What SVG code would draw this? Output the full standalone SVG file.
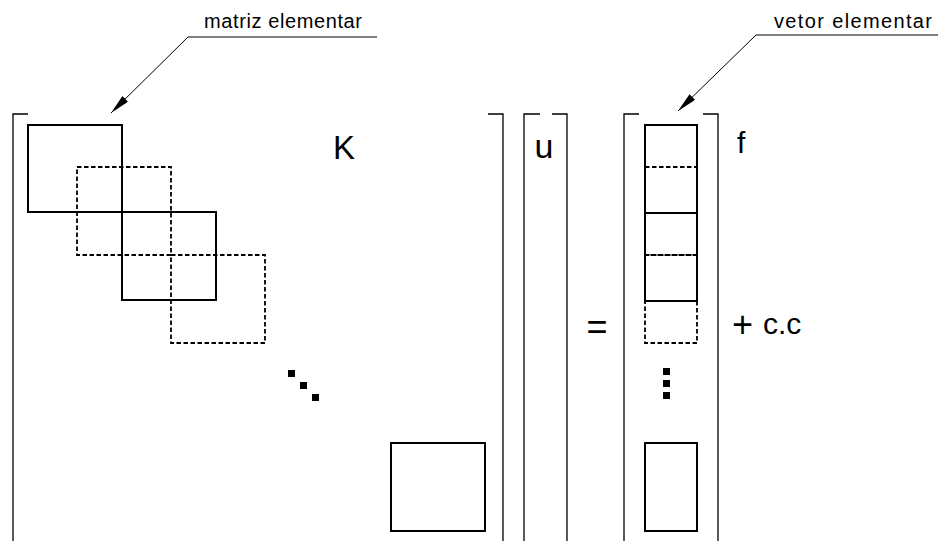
<svg xmlns="http://www.w3.org/2000/svg" width="938" height="541" viewBox="0 0 938 541">
  <style>
    .solid { fill: none; stroke: #000; stroke-width: 2; }
    .dash { fill: none; stroke: #000; stroke-width: 1.8; stroke-dasharray: 4.5 2.5; }
    .brk { fill: none; stroke: #000; stroke-width: 1.3; }
    .lead { fill: none; stroke: #000; stroke-width: 1; }
    .dot { fill: #000; }
    .lbl { font-family: "Liberation Sans", Arial, sans-serif; font-size: 20px; fill: #000; }
    .big { font-family: "Liberation Sans", Arial, sans-serif; fill: #000; }
  </style>
  <defs>
    <marker id="arrow" viewBox="0 0 20 8" refX="20" refY="4" markerWidth="20" markerHeight="8" markerUnits="userSpaceOnUse" orient="auto">
      <path d="M0,0 L20,4 L0,8 z" fill="#000"/>
    </marker>
  </defs>
  <rect width="938" height="541" fill="#fff"/>

  <!-- stiffness matrix K -->
  <g id="matrix-K">
    <path class="brk" d="M28,114 H13 V541"/>
    <path class="brk" d="M488,114 H503 V541"/>
    <rect class="solid" x="28" y="125" width="94" height="87"/>
    <rect class="dash" x="77" y="167" width="94" height="88"/>
    <rect class="solid" x="122" y="212" width="94" height="88"/>
    <rect class="dash" x="171" y="255" width="94" height="88"/>
    <rect class="dot" x="288" y="370" width="7" height="7"/>
    <rect class="dot" x="300" y="382" width="7" height="7"/>
    <rect class="dot" x="312" y="394" width="7" height="7"/>
    <rect class="solid" x="391" y="443" width="94" height="88"/>
    <text class="big" x="333" y="159" font-size="33">K</text>
  </g>

  <!-- unknown vector u -->
  <g id="vector-u">
    <path class="brk" d="M540,114 H524 V541"/>
    <path class="brk" d="M552,114 H567 V541"/>
    <text class="big" x="544" y="158" font-size="34" text-anchor="middle">u</text>
  </g>

  <!-- equals sign -->
  <g id="equals">
    <text class="big" x="597" y="339" font-size="36" text-anchor="middle">=</text>
  </g>

  <!-- load vector f -->
  <g id="vector-f">
    <path class="brk" d="M639,114 H624 V541"/>
    <path class="brk" d="M703,114 H718 V541"/>
    <rect class="solid" x="645" y="125" width="52" height="88"/>
    <rect class="dash" x="645" y="167" width="52" height="88"/>
    <rect class="solid" x="645" y="213" width="52" height="88"/>
    <rect class="dash" x="645" y="255" width="52" height="88"/>
    <rect class="dot" x="663" y="368" width="7" height="7"/>
    <rect class="dot" x="663" y="380" width="7" height="7"/>
    <rect class="dot" x="663" y="392" width="7" height="7"/>
    <rect class="solid" x="645" y="443" width="52" height="88"/>
    <text class="big" x="737" y="153" font-size="30">f</text>
  </g>

  <!-- boundary conditions -->
  <g id="bc">
    <text class="big" x="732" y="337" font-size="30"><tspan font-size="36">+</tspan> <tspan x="763" y="334">c.c</tspan></text>
  </g>

  <!-- callout labels -->
  <g id="label-matriz">
    <text class="lbl" x="204" y="28" textLength="158" lengthAdjust="spacing">matriz elementar</text>
  </g>
  <g id="label-vetor">
    <text class="lbl" x="774" y="28" textLength="158" lengthAdjust="spacing">vetor elementar</text>
  </g>

  <!-- leader lines -->
  <g id="connectors">
    <path class="lead" d="M377,37 H188 L111,113" marker-end="url(#arrow)"/>
    <path class="lead" d="M938,35 H756 L678,111" marker-end="url(#arrow)"/>
  </g>
</svg>
